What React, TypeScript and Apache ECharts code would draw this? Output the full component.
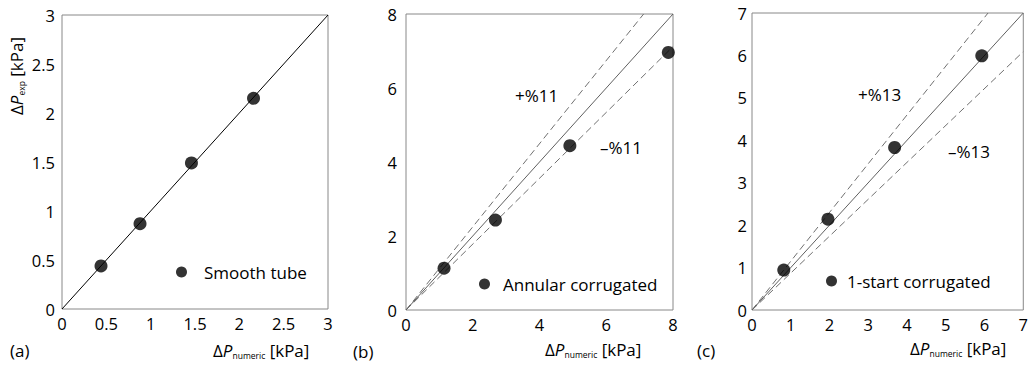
import React, { useEffect, useRef } from 'react';
import * as echarts from 'echarts';

const FONT = "'Open Sans', sans-serif";

// Panel (a) smooth tube
const SMOOTH_X = [0.44, 0.88, 1.46, 2.16];
const SMOOTH_Y = [0.44, 0.87, 1.49, 2.15];
// Panel (b) annular corrugated
const ANNULAR_X = [1.14, 2.68, 4.91, 7.86];
const ANNULAR_Y = [1.13, 2.43, 4.44, 6.96];
// Panel (c) 1-start corrugated
const ONESTART_X = [0.82, 1.96, 3.68, 5.93];
const ONESTART_Y = [0.94, 2.14, 3.83, 5.99];

// Reference lines (x, y endpoints)
const DIAG_A = [[0, 0], [3, 3]];
const DIAG_B = [[0, 0], [8, 8]];
const DIAG_C = [[0, 0], [7, 7]];
const B_UPPER = [[0, 0], [7.12, 8]];
const B_LOWER = [[0, 0], [8, 7.12]];
const C_UPPER = [[0, 0], [6.09, 7]];
const C_LOWER = [[0, 0], [7, 6.09]];

// Axis ranges
const AXES = [
  { min: 0, max: 3, interval: 0.5 },
  { min: 0, max: 8, interval: 2 },
  { min: 0, max: 7, interval: 1 },
];

const NAMES = ['Smooth tube', 'Annular corrugated', '1-start corrugated'];
const TOL_B = ['+%11', '–%11'];
const TOL_C = ['+%13', '–%13'];
const PANEL_LABELS = ['(a)', '(b)', '(c)'];

const pairs = (xs: number[], ys: number[]) => xs.map((x, i) => [x, ys[i]]);

const rich = {
  d: { fontSize: 17, fontFamily: FONT, lineHeight: 20, fill: '#000' },
  p: { fontSize: 17, fontFamily: FONT, fontStyle: 'italic', lineHeight: 20, fill: '#000' },
  sub: { fontSize: 8.5, fontFamily: FONT, lineHeight: 6, verticalAlign: 'bottom', fill: '#000' },
};

export default function App() {
  const ref = useRef<HTMLDivElement>(null);
  useEffect(() => {
    const chart = echarts.init(ref.current!, null, { renderer: 'svg' });
    const grids = [
      { left: 62, top: 15, width: 266, height: 294 },
      { left: 406, top: 14, width: 267, height: 296 },
      { left: 752, top: 13, width: 273, height: 297 },
    ].map((g) => ({ ...g, show: true, borderColor: '#888888', borderWidth: 1, backgroundColor: 'transparent' }));

    const yMargins = [7, 9, 5];
    const mkAxis = (i: number, isY: boolean) => ({
      type: 'value',
      gridIndex: i,
      min: AXES[i].min,
      max: AXES[i].max,
      interval: AXES[i].interval,
      axisLine: { show: false },
      axisTick: { show: false },
      splitLine: { show: false },
      axisLabel: { color: '#000', fontSize: 16.5, fontFamily: FONT, margin: isY ? yMargins[i] : 6 },
    });

    const line = (i: number, data: number[][], color: string, type: any) => ({
      type: 'line',
      xAxisIndex: i,
      yAxisIndex: i,
      data,
      symbol: 'none',
      silent: true,
      lineStyle: { color, width: 1, type },
    });
    const scatter = (i: number, name: string, data: number[][]) => ({
      type: 'scatter',
      name,
      xAxisIndex: i,
      yAxisIndex: i,
      data,
      symbolSize: 13,
      itemStyle: { color: '#000' },
      z: 5,
    });

    const dash = [7, 4];
    const legendPos = [
      { left: 176, top: 262, pad: 12 },
      { left: 479, top: 274, pad: 8 },
      { left: 826, top: 271, pad: 5 },
    ];

    const xTitlePos = [
      { x: 213, y: 350 },
      { x: 545, y: 349 },
      { x: 910, y: 348 },
    ];
    const panelLabelPos = [
      { x: 10, y: 350 },
      { x: 353, y: 351 },
      { x: 697, y: 350 },
    ];
    const tolPos = [
      { x: 515, y: 95, t: TOL_B[0] },
      { x: 600, y: 147, t: TOL_B[1] },
      { x: 858, y: 94, t: TOL_C[0] },
      { x: 948, y: 151, t: TOL_C[1] },
    ];

    const option: any = {
      animation: false,
      grid: grids,
      xAxis: [0, 1, 2].map((i) => mkAxis(i, false)),
      yAxis: [0, 1, 2].map((i) => mkAxis(i, true)),
      legend: NAMES.map((n, i) => ({
        data: [n],
        left: legendPos[i].left,
        top: legendPos[i].top,
        padding: 0,
        icon: 'circle',
        itemWidth: 11,
        itemHeight: 11,
        selectedMode: false,
        textStyle: {
          fontSize: 17,
          fontFamily: FONT,
          color: '#000',
          lineHeight: 20,
          padding: [0, 0, 0, legendPos[i].pad],
        },
      })),
      series: [
        line(0, DIAG_A, '#000', 'solid'),
        line(1, B_UPPER, '#707070', dash),
        line(1, B_LOWER, '#707070', dash),
        line(1, DIAG_B, '#606060', 'solid'),
        line(2, C_UPPER, '#707070', dash),
        line(2, C_LOWER, '#707070', dash),
        line(2, DIAG_C, '#606060', 'solid'),
        scatter(0, NAMES[0], pairs(SMOOTH_X, SMOOTH_Y)),
        scatter(1, NAMES[1], pairs(ANNULAR_X, ANNULAR_Y)),
        scatter(2, NAMES[2], pairs(ONESTART_X, ONESTART_Y)),
      ],
      graphic: [
        ...xTitlePos.map((p) => ({
          type: 'text',
          x: p.x,
          y: p.y,
          silent: true,
          style: {
            text: '{d|Δ}{p|P}{sub|numeric}{d| [kPa]}',
            rich,
            align: 'left',
            verticalAlign: 'middle',
          },
        })),
        {
          type: 'text',
          x: 16,
          y: 76,
          rotation: Math.PI / 2,
          silent: true,
          style: {
            text: '{d|Δ}{p|P}{sub|exp}{d| [kPa]}',
            rich,
            align: 'center',
            verticalAlign: 'middle',
          },
        },
        ...panelLabelPos.map((p, i) => ({
          type: 'text',
          x: p.x,
          y: p.y,
          silent: true,
          style: {
            text: PANEL_LABELS[i],
            fontSize: 17,
            fontFamily: FONT,
            fill: '#000',
            align: 'left',
            verticalAlign: 'middle',
          },
        })),
        ...tolPos.map((p) => ({
          type: 'text',
          x: p.x,
          y: p.y,
          silent: true,
          style: {
            text: p.t,
            fontSize: 17,
            fontFamily: FONT,
            fill: '#000',
            align: 'left',
            verticalAlign: 'middle',
          },
        })),
      ],
    };
    chart.setOption(option);
    return () => chart.dispose();
  }, []);
  return (
    <div
      ref={ref}
      style={{ position: 'absolute', left: 0, top: 0, width: 1031, height: 365 }}
    />
  );
}
